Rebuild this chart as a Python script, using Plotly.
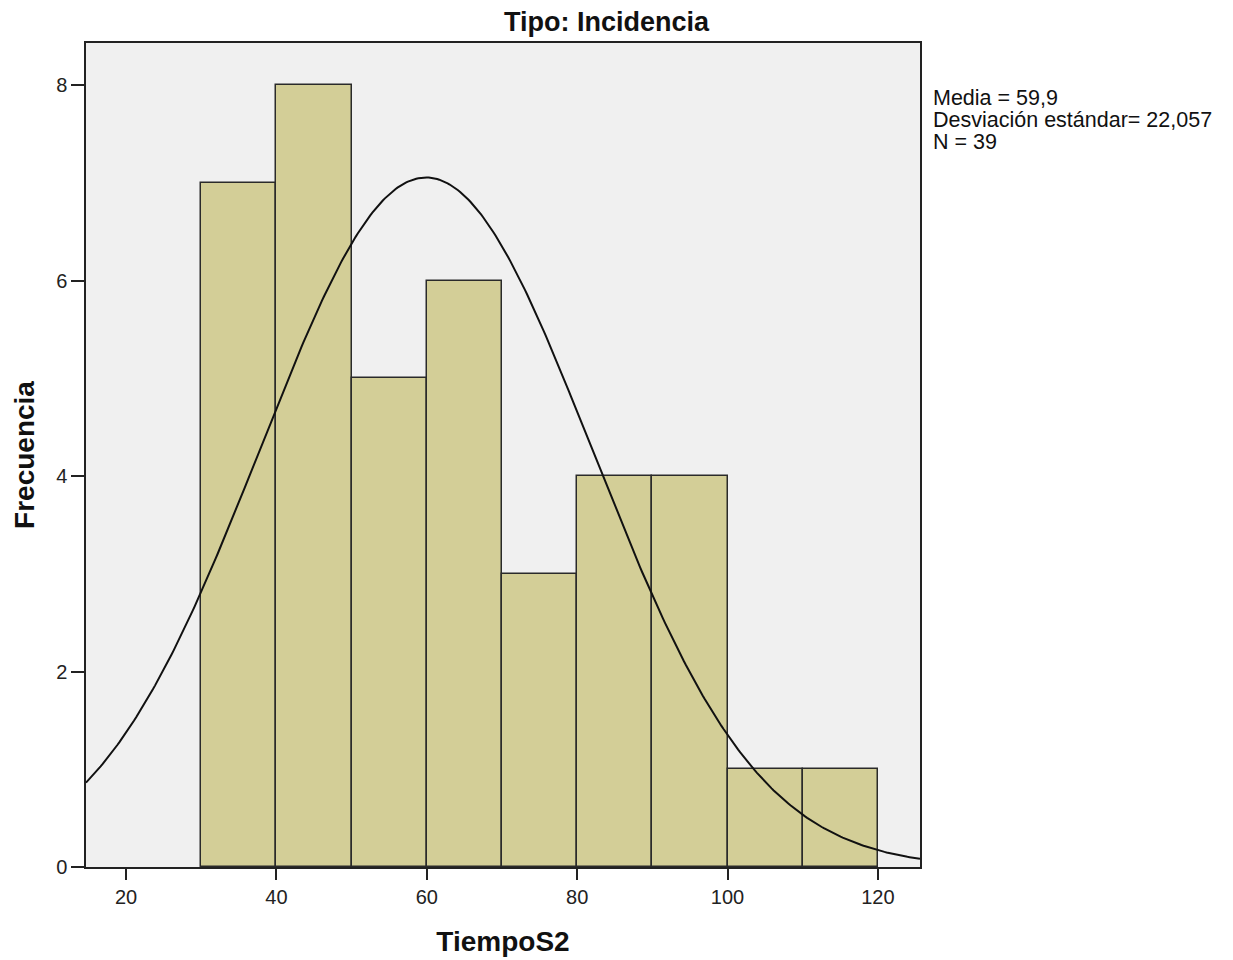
import numpy as np
import plotly.graph_objects as go

# Data
bin_edges = [30, 40, 50, 60, 70, 80, 90, 100, 110, 120]
frecuencias = [7, 8, 5, 6, 3, 4, 4, 1, 1]
media = 59.9
desviacion = 22.057
n_total = 39
x_ticks = [20, 40, 60, 80, 100, 120]
y_ticks = [0, 2, 4, 6, 8]

centers = [(a + b) / 2 for a, b in zip(bin_edges[:-1], bin_edges[1:])]
widths = [b - a for a, b in zip(bin_edges[:-1], bin_edges[1:])]
bw = widths[0]

x_range = [14.68, 125.6]
y_range = [0, 8.43]

# Fitted normal curve from the stated mean / std dev
xc = np.linspace(x_range[0], x_range[1], 400)
yc = n_total * bw / (desviacion * np.sqrt(2 * np.pi)) * np.exp(-0.5 * ((xc - media) / desviacion) ** 2)

FONT = "Liberation Sans, Arial, sans-serif"

fig = go.Figure()
fig.add_trace(go.Bar(
    x=centers, y=frecuencias, width=widths,
    marker=dict(color="#D3CE97", line=dict(color="#2a2a2a", width=1.5)),
    hoverinfo="skip", showlegend=False,
))
fig.add_trace(go.Scatter(
    x=xc, y=yc, mode="lines",
    line=dict(color="#111111", width=2),
    hoverinfo="skip", showlegend=False,
))

axis_font = dict(family=FONT, size=20, color="#222222")
fig.update_xaxes(
    range=x_range, tickvals=x_ticks, ticktext=[str(v) for v in x_ticks],
    ticks="outside", ticklen=11, tickwidth=1.5, tickcolor="#222222",
    showline=True, linecolor="#222222", linewidth=1.5, mirror=True,
    showgrid=False, zeroline=False, tickfont=axis_font, automargin=False,
    title=dict(text="<b>TiempoS2</b>", font=dict(family=FONT, size=28, color="#111111"), standoff=25),
)
fig.update_yaxes(
    range=y_range, tickvals=y_ticks, ticktext=[str(v) for v in y_ticks],
    ticks="outside", ticklen=13, tickwidth=1.5, tickcolor="#222222",
    showline=True, linecolor="#222222", linewidth=1.5, mirror=True,
    showgrid=False, zeroline=False, tickfont=axis_font, automargin=False,
    title=dict(text="<b>Frecuencia</b>", font=dict(family=FONT, size=28, color="#111111"), standoff=13),
)

fig.update_layout(
    width=1233, height=960,
    margin=dict(l=86, r=313, t=43, b=93),
    paper_bgcolor="white", plot_bgcolor="#F0F0F0",
    bargap=0,
)

PW = 920 - 86
PH = 867 - 43

def px_x(x):
    return (x - 86) / PW

def px_y(y):
    return (867 - y) / PH

fig.add_annotation(
    text="<b>Tipo: Incidencia</b>", xref="paper", yref="paper",
    x=px_x(607), y=px_y(22), showarrow=False,
    xanchor="center", yanchor="middle",
    font=dict(family=FONT, size=27, color="#111111"),
)

stats_lines = [
    f"Media = {str(media).replace('.', ',')}",
    f"Desviación estándar= {str(desviacion).replace('.', ',')}",
    f"N = {n_total}",
]
for i, line in enumerate(stats_lines):
    fig.add_annotation(
        text=line, xref="paper", yref="paper",
        x=px_x(932), y=px_y(98 + 22 * i), showarrow=False,
        xanchor="left", yanchor="middle", align="left", valign="middle",
        height=22, borderpad=0,
        font=dict(family=FONT, size=21.5, color="#111111"),
    )

fig.write_html("out.html")
